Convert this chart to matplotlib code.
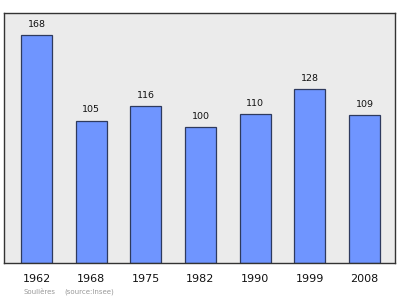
import matplotlib.pyplot as plt
import numpy as np

years = ['1962', '1968', '1975', '1982', '1990', '1999', '2008']
population = [168, 105, 116, 100, 110, 128, 109]

fig = plt.figure(figsize=(4.0, 2.99), dpi=100)
ax = fig.add_axes([0.01, 0.1204, 0.9775, 0.836])
ax.set_facecolor('#ebebeb')

x = np.arange(len(years))
ax.bar(x, population, width=0.567, color='#6f95ff', edgecolor='#2e3a5e', linewidth=0.9, zorder=2)

# value labels above each bar
for xi, v in zip(x, population):
    ax.text(xi, v + 4.5, str(v), ha='center', va='bottom', fontsize=6.8, color='#111111')

ax.set_xlim(-0.594, 6.557)
ax.set_ylim(0, 184.3)
ax.set_yticks([])
ax.set_xticks(x)
ax.set_xticklabels(years, fontsize=8, color='#111111')
ax.tick_params(axis='x', length=0, pad=8)
for s in ax.spines.values():
    s.set_color('#333333')
    s.set_linewidth(1.0)

fig.text(24 / 400, 1 - 292 / 299, 'Soulières', fontsize=5, color='#999999', va='center')
fig.text(64 / 400, 1 - 292 / 299, '(source:Insee)', fontsize=5, color='#999999', va='center')

fig.savefig('out.png', dpi=100, facecolor='white')
